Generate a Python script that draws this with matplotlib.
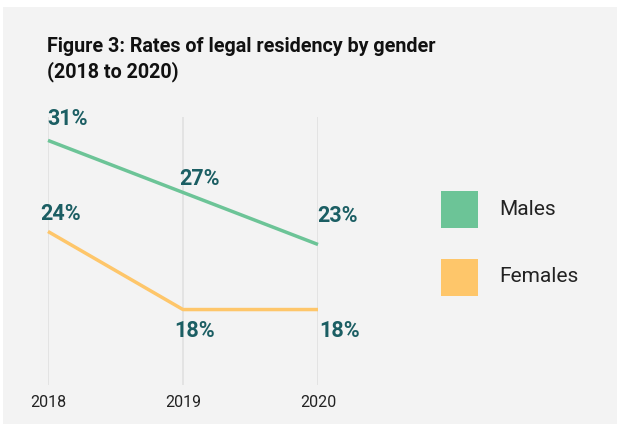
import matplotlib
matplotlib.use('Agg')
import matplotlib.pyplot as plt
from matplotlib.patches import Rectangle

# rates of legal residency, percent
years = [2018, 2019, 2020]
males = [31, 27, 23]
females = [24, 18, 18]
series_names = ['Males', 'Females']
title = 'Figure 3: Rates of legal residency by gender\n(2018 to 2020)'

green = '#6cc497'
orange = '#fec66a'
label_color = '#1b5e63'
bg = '#f3f3f3'

plt.rcParams['font.family'] = ['Roboto', 'DejaVu Sans']

fig = plt.figure(figsize=(6.2, 4.24), dpi=100)
fig.patch.set_facecolor('white')
fig.patches.append(Rectangle((3 / 620, 0), 614 / 620, 417 / 424,
                             transform=fig.transFigure, facecolor=bg,
                             edgecolor='none', zorder=-10))

ax = fig.add_axes([48 / 620, 39 / 424, 270 / 620, 268 / 424])
ax.set_facecolor('none')
ax.set_xlim(years[0], years[-1])
ax.set_ylim(12.2, 32.8)

for yr in years:
    ax.axvline(yr, color='#e0e0e0', lw=1.2, zorder=1)

ax.plot(years, males, color=green, lw=2.5, clip_on=False, zorder=3,
        solid_capstyle='butt')
ax.plot(years, females, color=orange, lw=2.5, clip_on=False, zorder=3,
        solid_capstyle='butt')

# label offsets in pixels (dx, dy) for each point
male_offsets = [(20, 21), (17, 13), (19, 28)]
female_offsets = [(13, 17), (12, -21), (22, -21)]
for vals, offs in ((males, male_offsets), (females, female_offsets)):
    for yr, v, (dx, dy) in zip(years, vals, offs):
        ax.annotate(f'{v}%', (yr, v), xytext=(dx, dy),
                    textcoords='offset pixels', ha='center', va='center',
                    fontsize=15.5, fontweight='bold', color=label_color,
                    annotation_clip=False)

ax.set_xticks(years)
ax.set_xticklabels([str(y) for y in years], fontsize=11.5, color='#222222')
ax.tick_params(axis='x', length=0, pad=7)
ax.set_yticks([])
for s in ax.spines.values():
    s.set_visible(False)

fig.text(47 / 620, 1 - 37 / 424, title, fontsize=14.2, fontweight='bold',
         color='#111111', va='top', ha='left', linespacing=1.33)

# legend swatches
for name, col, yc in zip(series_names, [green, orange], [210, 277]):
    fig.patches.append(Rectangle((441 / 620, 1 - (yc + 18.5) / 424),
                                 37 / 620, 37 / 424,
                                 transform=fig.transFigure, facecolor=col,
                                 edgecolor='none'))
    fig.text(499 / 620, 1 - yc / 424, name, fontsize=15, color='#222222',
             va='center', ha='left')

fig.savefig('out.png', dpi=100, facecolor=fig.get_facecolor())
